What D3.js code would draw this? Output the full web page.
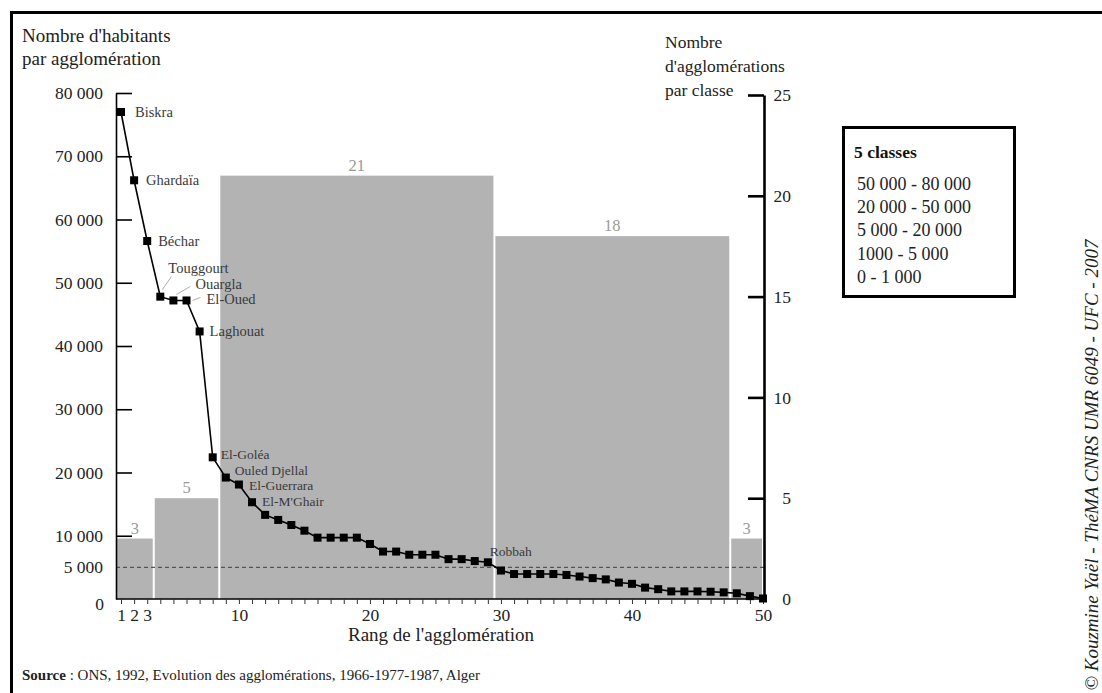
<!DOCTYPE html>
<html><head><meta charset="utf-8">
<script src="https://cdn.jsdelivr.net/npm/d3@7"></script>
<style>
html,body{margin:0;padding:0;background:#fff;}
svg{display:block;font-family:"Liberation Serif","DejaVu Serif",serif;}
</style></head>
<body>
<svg id="chart" width="1102" height="693"></svg>
<script>
// ---------- DATA ----------
const ranks = d3.range(1, 51);
const population = [77000, 66200, 56600, 47800, 47200, 47200, 42300, 22400, 19200, 18100,
  15300, 13300, 12500, 11700, 10800, 9700, 9700, 9700, 9700, 8700,
  7500, 7500, 7000, 7000, 7000, 6300, 6300, 6000, 5800, 4500,
  3950, 3950, 3950, 3950, 3800, 3550, 3300, 3100, 2600, 2400,
  1800, 1550, 1200, 1200, 1200, 1150, 1050, 900, 450, 80];
const cityNames = ["Biskra", "Ghardaïa", "Béchar", "Touggourt", "Ouargla", "El-Oued", "Laghouat",
  "El-Goléa", "Ouled Djellal", "El-Guerrara", "El-M'Ghair", "Robbah"];
const cityRanks = [1, 2, 3, 4, 5, 6, 7, 8, 9, 10, 11, 29];
const classCounts = [3, 5, 21, 18, 3];
const classLabels = ["50 000 - 80 000", "20 000 - 50 000", "5 000 - 20 000", "1000 - 5 000", "0 - 1 000"];
const yTicks = [0, 5000, 10000, 20000, 30000, 40000, 50000, 60000, 70000, 80000];
const yRightTicks = [0, 5, 10, 15, 20, 25];
const xLabelTicks = [1, 2, 3, 10, 20, 30, 40, 50];
const threshold = 5000;

// ---------- LAYOUT ----------
const svg = d3.select("#chart");
const x = d3.scaleLinear().domain([1, 50]).range([121, 763]);
const y = d3.scaleLinear().domain([0, 80000]).range([599, 93]);
const yR = d3.scaleLinear().domain([0, 25]).range([599, 95]);
const axisLeftX = 116, axisRightX = 764;
const fmt = v => v === 0 ? "0" : d3.format(",")(v).replace(/,/g, " ");

// frame (top + left)
svg.append("line").attr("x1", 11).attr("x2", 1102).attr("y1", 12.5).attr("y2", 12.5)
  .attr("stroke", "#000").attr("stroke-width", 3);
svg.append("line").attr("x1", 11.5).attr("x2", 11.5).attr("y1", 11).attr("y2", 693)
  .attr("stroke", "#000").attr("stroke-width", 3);

// bars (classes of rank)
let start = 1;
const bars = classCounts.map(c => { const b = {start, end: start + c - 1, count: c}; start += c; return b; });
const bx0 = b => Math.max(axisLeftX, x(b.start - 0.5));
const bx1 = b => Math.min(axisRightX - 1, x(b.end + 0.5));
svg.append("g").selectAll("rect").data(bars).join("rect")
  .attr("x", b => bx0(b) + 1).attr("width", b => bx1(b) - bx0(b) - 2)
  .attr("y", b => yR(b.count)).attr("height", b => yR(0) - yR(b.count))
  .attr("fill", "#b3b3b3");
svg.append("g").selectAll("text").data(bars).join("text")
  .attr("x", b => (bx0(b) + bx1(b)) / 2).attr("y", b => yR(b.count) - 5)
  .attr("text-anchor", "middle").attr("font-size", 16.5).attr("fill", "#9a9a9a")
  .text(b => b.count);

// dashed 5000 line
svg.append("line").attr("x1", axisLeftX).attr("x2", axisRightX)
  .attr("y1", y(threshold)).attr("y2", y(threshold))
  .attr("stroke", "#555").attr("stroke-width", 1.2).attr("stroke-dasharray", "4,3");

// left axis
const gL = svg.append("g").attr("transform", `translate(${axisLeftX},0)`)
  .call(d3.axisLeft(y).tickValues(yTicks).tickFormat(fmt).tickSizeInner(-16).tickSizeOuter(0).tickPadding(13));
gL.select(".domain").attr("stroke-width", 1.6);
gL.selectAll(".tick line").attr("stroke-width", 1.6)
  .filter(d => d === 0 || d === threshold).remove();
gL.selectAll(".tick text").attr("font-size", 17.5).attr("fill", "#222").attr("font-family", "Liberation Serif");
gL.selectAll(".tick").filter(d => d === 0).select("text").attr("dy", "0.62em").attr("x", -12);

// x axis
svg.append("line").attr("x1", axisLeftX).attr("x2", axisRightX).attr("y1", 599).attr("y2", 599)
  .attr("stroke", "#000").attr("stroke-width", 1.6);
const gX = svg.append("g").attr("transform", "translate(0,599)")
  .call(d3.axisBottom(x).tickValues(ranks).tickSizeInner(5).tickSizeOuter(0).tickPadding(5)
    .tickFormat(d => xLabelTicks.includes(d) ? d : ""));
gX.select(".domain").remove();
gX.selectAll(".tick line").attr("stroke", "#333");
gX.selectAll(".tick text").attr("font-size", 17.5).attr("fill", "#222").attr("font-family", "Liberation Serif");

// right axis
const gR = svg.append("g").attr("transform", `translate(${axisRightX},0)`)
  .call(d3.axisRight(yR).tickValues(yRightTicks).tickSizeInner(-16).tickSizeOuter(0).tickPadding(0));
gR.select(".domain").attr("stroke-width", 2.6);
gR.selectAll(".tick line").attr("stroke-width", 2.6).filter(d => d === 0).remove();
gR.selectAll(".tick text").attr("text-anchor", "end").attr("x", 27)
  .attr("font-size", 17.5).attr("fill", "#222").attr("font-family", "Liberation Serif");

// population line + markers
const pts = ranks.map((r, i) => ({r, v: population[i]}));
svg.append("path").datum(pts)
  .attr("d", d3.line().x(d => x(d.r)).y(d => y(d.v)))
  .attr("fill", "none").attr("stroke", "#000").attr("stroke-width", 1.6);
svg.append("g").selectAll("rect").data(pts).join("rect")
  .attr("x", d => x(d.r) - 4).attr("y", d => y(d.v) - 4)
  .attr("width", 8).attr("height", 8).attr("fill", "#000");

// city labels
const labelOffsets = {
  "Biskra": [14, 5, 14.5], "Ghardaïa": [12, 5, 14.5], "Béchar": [11, 5, 14.5],
  "Touggourt": [8, -24, 14.5], "Ouargla": [22, -11, 14.5], "El-Oued": [20, 4, 14.5],
  "Laghouat": [10, 5, 14.5], "El-Goléa": [8, 2, 13.5], "Ouled Djellal": [9, -3, 13.5],
  "El-Guerrara": [10, 5, 13.5], "El-M'Ghair": [10, 4, 13.5], "Robbah": [2, -6, 13.5]
};
const leaders = {"Touggourt": [[2, -7], [11, -20]], "Ouargla": [[3, -6], [17, -14]], "El-Oued": [[6, 0], [14, -3]]};
cityNames.forEach((name, i) => {
  const r = cityRanks[i], px = x(r), py = y(population[r - 1]);
  const [dx, dy, fs] = labelOffsets[name];
  svg.append("text").attr("x", px + dx).attr("y", py + dy)
    .attr("font-size", fs).attr("fill", "#3a3a3a").text(name);
  if (leaders[name]) {
    const [[a, b], [c, d]] = leaders[name];
    svg.append("line").attr("x1", px + a).attr("y1", py + b).attr("x2", px + c).attr("y2", py + d)
      .attr("stroke", "#999").attr("stroke-width", 0.8);
  }
});

// titles
const tL = svg.append("text").attr("font-size", 19).attr("fill", "#222");
tL.append("tspan").attr("x", 22).attr("y", 42).text("Nombre d'habitants");
tL.append("tspan").attr("x", 22).attr("y", 65).text("par agglomération");
const tR = svg.append("text").attr("font-size", 17.5).attr("fill", "#222");
[["Nombre", 48], ["d'agglomérations", 72], ["par classe", 96]].forEach(([t, yy]) =>
  tR.append("tspan").attr("x", 665).attr("y", yy).text(t));
svg.append("text").attr("x", 441).attr("y", 641).attr("text-anchor", "middle")
  .attr("font-size", 19).attr("fill", "#222").text("Rang de l'agglomération");

// legend
svg.append("rect").attr("x", 843.5).attr("y", 127.5).attr("width", 171).attr("height", 169)
  .attr("fill", "#fff").attr("stroke", "#000").attr("stroke-width", 3);
svg.append("text").attr("x", 854).attr("y", 158).attr("font-size", 17.5).attr("font-weight", "bold")
  .attr("fill", "#111").text("5 classes");
svg.append("g").selectAll("text").data(classLabels).join("text")
  .attr("x", 857).attr("y", (d, i) => 190 + i * 23.2).attr("font-size", 18).attr("fill", "#222").text(d => d);

// source
const src = svg.append("text").attr("x", 22).attr("y", 680).attr("font-size", 15).attr("fill", "#222");
src.append("tspan").attr("font-weight", "bold").text("Source");
src.append("tspan").text(" : ONS, 1992, Evolution des agglomérations, 1966-1977-1987, Alger");

// copyright
svg.append("text").attr("transform", "translate(1098,465) rotate(-90)").attr("text-anchor", "middle")
  .attr("font-size", 19).attr("font-style", "italic").attr("fill", "#222")
  .text("© Kouzmine Yaël - ThéMA CNRS UMR 6049 - UFC - 2007");
</script>
</body></html>
